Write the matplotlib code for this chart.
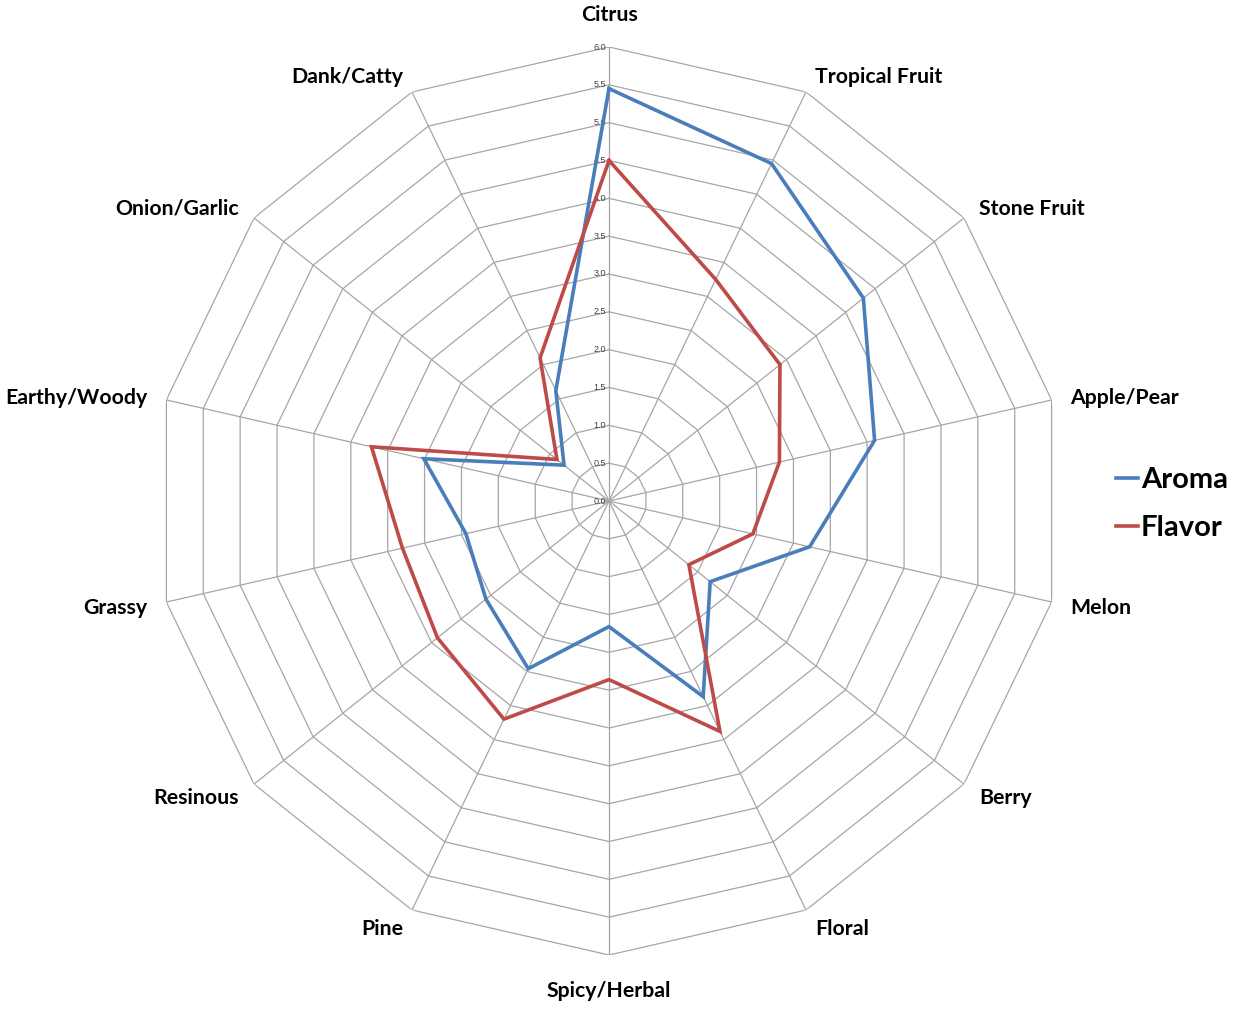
import numpy as np
import matplotlib
matplotlib.use("Agg")
import matplotlib.pyplot as plt

categories = ["Citrus", "Tropical Fruit", "Stone Fruit", "Apple/Pear", "Melon", "Berry",
              "Floral", "Spicy/Herbal", "Pine", "Resinous", "Grassy", "Earthy/Woody",
              "Onion/Garlic", "Dank/Catty"]
aroma = [5.45, 4.95, 4.3, 3.6, 2.72, 1.71, 2.87, 1.66, 2.46, 2.08, 1.94, 2.51, 0.76, 1.62]
flavor = [4.5, 3.25, 2.89, 2.31, 1.95, 1.35, 3.38, 2.36, 3.2, 2.9, 2.8, 3.22, 0.88, 2.1]
tick_values = [0.0, 0.5, 1.0, 1.5, 2.0, 2.5, 3.0, 3.5, 4.0, 4.5, 5.0, 5.5, 6.0]
series_names = ["Aroma", "Flavor"]
colors = ["#4A7EBB", "#BE4B48"]

# label offsets in pixels (dx, dy, ha)
label_offsets = [(0, 32, "center"), (9, 15, "left"), (15, 9, "left"), (19, 2, "left"),
                 (19, -6, "left"), (15, -14, "left"), (9, -19, "left"), (0, -36, "center"),
                 (-9, -19, "right"), (-15, -14, "right"), (-19, -6, "right"),
                 (-19, 2, "right"), (-15, 9, "right"), (-9, 15, "right")]

W, H = 1240, 1018
fig = plt.figure(figsize=(W / 100, H / 100), dpi=100)
cx, cy, R = 609, 501, 454
ax = fig.add_axes([(cx - R) / W, 1 - (cy + R) / H, 2 * R / W, 2 * R / H], projection="polar")
ax.set_theta_offset(np.pi / 2)
ax.set_theta_direction(-1)
ax.set_ylim(0, 6)
ax.grid(False)
ax.set_xticks([])
ax.set_yticks([])
ax.spines["polar"].set_visible(False)
ax.patch.set_visible(False)

n = len(categories)
angles = np.arange(n) * 2 * np.pi / n
closed = np.concatenate([angles, angles[:1]])

grid_color = "#A6A6A6"
for r in tick_values[1:]:
    ax.plot(closed, [r] * (n + 1), color=grid_color, lw=0.9, zorder=1)
for a in angles:
    ax.plot([a, a], [0, 6], color=grid_color, lw=0.9, zorder=1)

for v in tick_values:
    ax.annotate(f"{v:.1f}", xy=(0, v), xytext=(-3, 0), textcoords="offset pixels",
                ha="right", va="center", fontsize=6.5, color="#404040",
                family="Liberation Sans", zorder=3)

for vals, name, c in zip([aroma, flavor], series_names, colors):
    ax.plot(closed, list(vals) + [vals[0]], color=c, lw=2.6, label=name, zorder=4,
            solid_joinstyle="miter")

for a, lab, (dx, dy, ha) in zip(angles, categories, label_offsets):
    ax.annotate(lab, xy=(a, 6.0), xytext=(dx, dy), textcoords="offset pixels",
                ha=ha, va="center", fontsize=15.3, fontweight="bold", family="Lato",
                color="#000000")

leg = ax.legend(loc="center left", bbox_to_anchor=(1116 / W, 1 - 504 / H),
                bbox_transform=fig.transFigure, frameon=False, handlelength=0.75,
                handletextpad=0.1, labelspacing=0.75, borderpad=0, borderaxespad=0,
                prop={"family": "Lato", "weight": "bold", "size": 21})
for line in leg.get_lines():
    line.set_linewidth(2.6)

fig.savefig("out.png", dpi=100, facecolor="white")
